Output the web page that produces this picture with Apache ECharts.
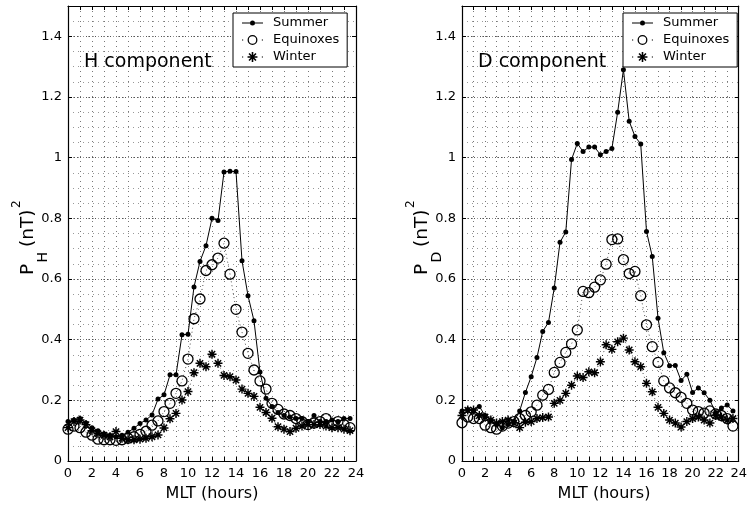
<!DOCTYPE html>
<html>
<head>
<meta charset="utf-8">
<title>P_H and P_D versus MLT</title>
<script src="https://cdn.jsdelivr.net/npm/echarts@6/dist/echarts.min.js"></script>
<style>
  html, body { margin: 0; padding: 0; background: #fff; }
  #chart { width: 750px; height: 510px; }
</style>
</head>
<body>
<div id="chart"></div>
<script>
// MLT of each sample (half-hour steps)
var hours = [0, 0.5, 1, 1.5, 2, 2.5, 3, 3.5, 4, 4.5, 5, 5.5, 6, 6.5, 7, 7.5,
  8, 8.5, 9, 9.5, 10, 10.5, 11, 11.5, 12, 12.5, 13, 13.5, 14, 14.5, 15, 15.5,
  16, 16.5, 17, 17.5, 18, 18.5, 19, 19.5, 20, 20.5, 21, 21.5, 22, 22.5, 23, 23.5];

// H component
var hSummer = [0.13, 0.135, 0.14, 0.125, 0.11, 0.10, 0.09, 0.085, 0.08, 0.085, 0.095, 0.108,
  0.124, 0.135, 0.152, 0.204, 0.218, 0.284, 0.284, 0.416, 0.418, 0.574, 0.658, 0.71,
  0.80, 0.793, 0.953, 0.955, 0.954, 0.66, 0.545, 0.462, 0.293, 0.207, 0.18, 0.16,
  0.15, 0.145, 0.14, 0.14, 0.13, 0.15, 0.13, 0.13, 0.135, 0.13, 0.14, 0.14];
var hEquinox = [0.105, 0.115, 0.11, 0.095, 0.085, 0.072, 0.07, 0.07, 0.068, 0.07, 0.075, 0.08,
  0.088, 0.098, 0.118, 0.132, 0.163, 0.19, 0.223, 0.264, 0.336, 0.469, 0.534, 0.628,
  0.647, 0.669, 0.718, 0.616, 0.50, 0.425, 0.355, 0.30, 0.264, 0.237, 0.19, 0.17,
  0.155, 0.15, 0.14, 0.13, 0.12, 0.125, 0.13, 0.14, 0.12, 0.13, 0.12, 0.11];
var hWinter = [0.11, 0.13, 0.135, 0.12, 0.10, 0.09, 0.085, 0.08, 0.097, 0.075, 0.07, 0.07,
  0.072, 0.075, 0.08, 0.086, 0.109, 0.139, 0.157, 0.201, 0.229, 0.291, 0.322, 0.311,
  0.352, 0.322, 0.282, 0.278, 0.267, 0.237, 0.223, 0.213, 0.177, 0.16, 0.141, 0.113,
  0.105, 0.097, 0.108, 0.115, 0.12, 0.12, 0.12, 0.115, 0.11, 0.11, 0.105, 0.10];

// D component
var dSummer = [0.165, 0.17, 0.165, 0.18, 0.15, 0.135, 0.12, 0.11, 0.12, 0.13, 0.165, 0.226,
  0.278, 0.341, 0.427, 0.457, 0.57, 0.721, 0.755, 0.994, 1.047, 1.02, 1.035, 1.035,
  1.01, 1.02, 1.03, 1.15, 1.29, 1.12, 1.07, 1.045, 0.757, 0.674, 0.471, 0.357,
  0.314, 0.315, 0.265, 0.286, 0.226, 0.241, 0.225, 0.20, 0.16, 0.175, 0.185, 0.165];
var dEquinox = [0.126, 0.145, 0.14, 0.14, 0.118, 0.11, 0.105, 0.115, 0.125, 0.13, 0.14, 0.15,
  0.162, 0.184, 0.217, 0.236, 0.292, 0.325, 0.358, 0.386, 0.432, 0.559, 0.555, 0.573,
  0.597, 0.649, 0.73, 0.732, 0.664, 0.618, 0.625, 0.545, 0.449, 0.377, 0.325, 0.264,
  0.241, 0.225, 0.21, 0.19, 0.168, 0.163, 0.158, 0.165, 0.155, 0.15, 0.14, 0.115];
var dWinter = [0.15, 0.168, 0.168, 0.15, 0.145, 0.135, 0.125, 0.13, 0.135, 0.125, 0.11, 0.128,
  0.13, 0.14, 0.143, 0.145, 0.19, 0.20, 0.223, 0.25, 0.28, 0.275, 0.294, 0.291,
  0.327, 0.383, 0.368, 0.393, 0.405, 0.366, 0.327, 0.311, 0.256, 0.228, 0.177, 0.157,
  0.135, 0.125, 0.112, 0.13, 0.14, 0.145, 0.135, 0.125, 0.15, 0.145, 0.135, 0.14];

var seasons = ['Summer', 'Equinoxes', 'Winter'];

var FONT = 'DejaVu Sans';

// asterisk marker, like matlab '*'
var starPath = 'path://M4.2,0h1.6v10h-1.6z M0,4.2h10v1.6h-10z ' +
  'M0.934,2.066L2.066,0.934L9.066,7.934L7.934,9.066z M0.934,7.934L7.934,0.934L9.066,2.066L2.066,9.066z';

// legend icons (line style + marker)
var summerIcon = 'path://M0,4.5h8v1h-8z M13,4.5h8v1h-8z M13,5a2.5,2.5 0 1,1 -5,0a2.5,2.5 0 1,1 5,0z';
var equinoxIcon = 'path://M0,4.4h1.2v1.2h-1.2z M20,4.4h1.2v1.2h-1.2z ' +
  'M15.6,5a5,5 0 1,1 -10,0a5,5 0 1,1 10,0z M14.3,5a3.7,3.7 0 1,0 -7.4,0a3.7,3.7 0 1,0 7.4,0z';
var winterIcon = 'path://M0,4.4h1.2v1.2h-1.2z M20,4.4h1.2v1.2h-1.2z ' +
  'M9.8,0h1.6v10h-1.6z M5.6,4.2h10v1.6h-10z ' +
  'M6.534,2.066L7.666,0.934L14.666,7.934L13.534,9.066z M6.534,7.934L13.534,0.934L14.666,2.066L7.666,9.066z';

function pairs(vals) {
  return hours.map(function (h, i) { return [h, vals[i]]; });
}

var panels = [
  { left: 68, width: 288, sub: 'H', label: 'H component', data: [hSummer, hEquinox, hWinter] },
  { left: 462, width: 284, sub: 'D', label: 'D component', data: [dSummer, dEquinox, dWinter] }
];
var TOP = 6, HEIGHT = 455;

var axisLine = { show: true, onZero: false, lineStyle: { color: '#000', width: 1.2 } };
var tick = { show: true, inside: true, length: 4, lineStyle: { color: '#000', width: 1 } };
var vGrid = { show: true, lineStyle: { color: '#777', width: 1, type: [1, 4] } };
var hGridMajor = { show: true, lineStyle: { color: '#555', width: 1, type: [1, 2] } };
var hGridMinor = { show: true, lineStyle: { color: '#999', width: 1, type: [1, 4] } };

var grids = [], xAxes = [], yAxes = [], series = [], legends = [], graphics = [];

panels.forEach(function (p, g) {
  grids.push({ left: p.left, top: TOP, width: p.width, height: HEIGHT });

  var xi = xAxes.length;
  xAxes.push({
    gridIndex: g, type: 'value', min: 0, max: 24, interval: 2, position: 'bottom',
    axisLine: axisLine, axisTick: tick,
    minorTick: { show: true, splitNumber: 2, length: 4, lineStyle: { color: '#000' } },
    axisLabel: { color: '#000', fontFamily: FONT, fontSize: 13, margin: 6 },
    splitLine: vGrid, minorSplitLine: vGrid
  });
  xAxes.push({
    gridIndex: g, type: 'value', min: 0, max: 24, interval: 2, position: 'top',
    axisLine: axisLine, axisTick: tick,
    minorTick: { show: true, splitNumber: 2, length: 4, lineStyle: { color: '#000' } },
    axisLabel: { show: false }, splitLine: { show: false }
  });

  var yi = yAxes.length;
  yAxes.push({
    gridIndex: g, type: 'value', min: 0, max: 1.5, interval: 0.2, position: 'left',
    axisLine: axisLine, axisTick: tick,
    axisLabel: { color: '#000', fontFamily: FONT, fontSize: 13, margin: 6, showMaxLabel: false },
    splitLine: hGridMajor
  });
  yAxes.push({
    gridIndex: g, type: 'value', min: 0, max: 1.5, interval: 0.2, position: 'right',
    axisLine: axisLine, axisTick: tick,
    axisLabel: { show: false }, splitLine: { show: false }
  });
  // minor horizontal grid every 0.05
  yAxes.push({
    gridIndex: g, type: 'value', min: 0, max: 1.5, interval: 0.05, position: 'left',
    axisLine: { show: false }, axisTick: { show: false }, axisLabel: { show: false },
    splitLine: hGridMinor
  });

  series.push({
    name: 'Summer', type: 'line', xAxisIndex: xi, yAxisIndex: yi,
    data: pairs(p.data[0]), symbol: 'circle', symbolSize: 5, showAllSymbol: true,
    lineStyle: { color: '#000', width: 1 }, itemStyle: { color: '#000' }, z: 3
  });
  series.push({
    name: 'Equinoxes', type: 'line', xAxisIndex: xi, yAxisIndex: yi,
    data: pairs(p.data[1]), symbol: 'circle', symbolSize: 10, showAllSymbol: true,
    lineStyle: { color: '#000', width: 0.7, type: [1, 3] },
    itemStyle: { color: 'rgba(0,0,0,0)', borderColor: '#000', borderWidth: 1.3 }, z: 4
  });
  series.push({
    name: 'Winter', type: 'line', xAxisIndex: xi, yAxisIndex: yi,
    data: pairs(p.data[2]), symbol: starPath, symbolSize: 9, showAllSymbol: true,
    lineStyle: { color: '#000', width: 0.7, type: [1, 3] },
    itemStyle: { color: '#000', borderWidth: 0 }, z: 5
  });

  legends.push({
    left: p.left + p.width - 123, top: 13, orient: 'vertical', selectedMode: false,
    itemWidth: 21, itemHeight: 10, itemGap: 3, padding: [3, 8, 3, 9],
    borderColor: '#000', borderWidth: 1, backgroundColor: '#fff', borderRadius: 0,
    textStyle: { color: '#000', fontFamily: FONT, fontSize: 13, lineHeight: 14, padding: [0, 0, 0, 5] },
    data: [
      { name: seasons[0], icon: summerIcon, itemStyle: { color: '#000', borderWidth: 0 } },
      { name: seasons[1], icon: equinoxIcon, itemStyle: { color: '#000', borderWidth: 0 } },
      { name: seasons[2], icon: winterIcon, itemStyle: { color: '#000', borderWidth: 0 } }
    ]
  });

  // "H component" / "D component"
  graphics.push({
    type: 'text', x: p.left + 16, y: 62, z: 10,
    style: { text: p.label, fill: '#000', fontFamily: FONT, fontSize: 19, verticalAlign: 'middle' }
  });
  // x axis title
  graphics.push({
    type: 'text', x: p.left + p.width / 2, y: 494,
    style: { text: 'MLT (hours)', fill: '#000', fontFamily: FONT, fontSize: 16, align: 'center', verticalAlign: 'middle' }
  });
  // y axis title  P_x (nT)^2, rotated
  graphics.push({
    type: 'group', x: p.left - 33, y: 275, rotation: Math.PI / 2,
    children: [
      { type: 'text', x: 0, y: -6.5, style: { text: 'P', fill: '#000', fontFamily: FONT, fontSize: 18.5, verticalAlign: 'middle' } },
      { type: 'text', x: 12.5, y: 8, style: { text: p.sub, fill: '#000', fontFamily: FONT, fontSize: 14, verticalAlign: 'middle' } },
      { type: 'text', x: 28, y: -6.5, style: { text: '(nT)', fill: '#000', fontFamily: FONT, fontSize: 18.5, verticalAlign: 'middle' } },
      { type: 'text', x: 67, y: -18.5, style: { text: '2', fill: '#000', fontFamily: FONT, fontSize: 12, verticalAlign: 'middle' } }
    ]
  });
});

var chart = echarts.init(document.getElementById('chart'), null, { renderer: 'canvas' });
chart.setOption({
  animation: false,
  backgroundColor: '#fff',
  grid: grids,
  xAxis: xAxes,
  yAxis: yAxes,
  legend: legends,
  series: series,
  graphic: graphics
});
</script>
</body>
</html>
